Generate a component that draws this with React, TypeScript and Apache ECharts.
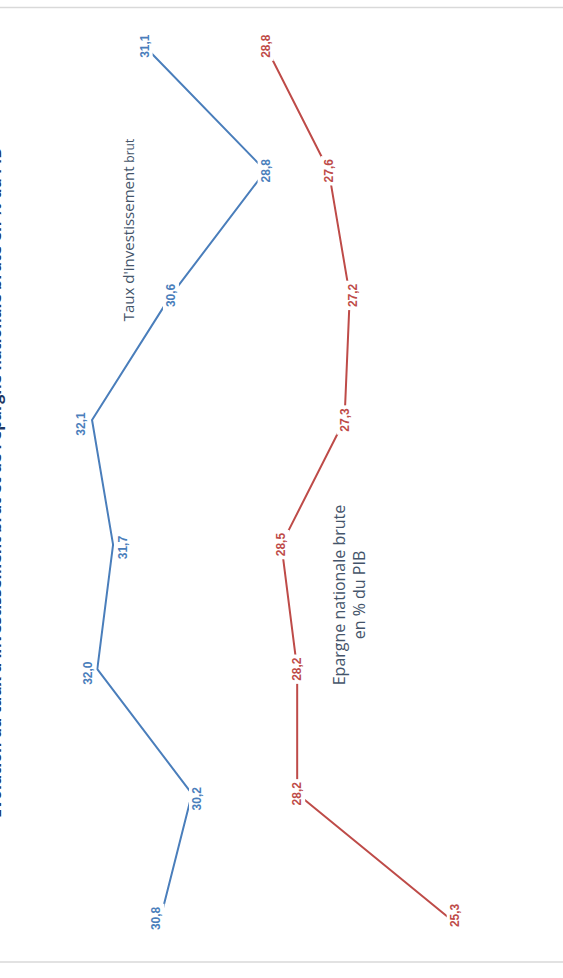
import { useEffect, useRef } from "react";
import * as echarts from "echarts";

// Eight periods, oldest first
const periods = ["1", "2", "3", "4", "5", "6", "7", "8"];
// Taux d'investissement brut (% du PIB)
const investissement = [30.8, 30.2, 32.0, 31.7, 32.1, 30.6, 28.8, 31.1];
// Epargne nationale brute (% du PIB)
const epargne = [25.3, 28.2, 28.2, 28.5, 27.3, 27.2, 27.6, 28.8];

const titleText =
  "Evolution du taux d'investissement brut et de l'épargne nationale brute en % du PIB";

// Small nudges of some value labels away from their point: [along axis, across axis]
const investLabelShift: [number, number][] = [
  [0, -4], [-5, 5], [-4, -9], [-3, 10], [-4, -11], [0, 0], [0, 0], [0, 0],
];
const epargneLabelShift: [number, number][] = [
  [3, 5], [0, 0], [0, 0], [0, 0], [0, 0], [0, 3], [0, 0], [0, 0],
];

const BLUE = "#4a7ebb";
const RED = "#be4b48";
const TEXT = "#44546a";

// The chart is laid out in landscape and turned a quarter turn on the page.
const PAGE_W = 563;
const PAGE_H = 978;
const CUT = 20; // strip of the landscape chart that falls off the page edge
const W = PAGE_H;
const H = PAGE_W + CUT;

const fmt = (v: number) => v.toFixed(1).replace(".", ",");

function seriesData(values: number[], shifts: [number, number][]) {
  return values.map((v, i) => ({
    value: v,
    label: { offset: shifts[i] },
  }));
}

function labelStyle(color: string) {
  return {
    show: true,
    position: "inside",
    formatter: (p: any) => fmt(p.value as number),
    color,
    fontFamily: "Liberation Sans",
    fontWeight: "bold",
    fontSize: 12,
    backgroundColor: "#ffffff",
    padding: [2, 3],
  };
}

export default function App() {
  const ref = useRef<HTMLDivElement>(null);

  useEffect(() => {
    const chart = echarts.init(ref.current!, null, { renderer: "svg" });
    chart.setOption({
      animation: false,
      backgroundColor: "#ffffff",
      grid: { left: 59.6, right: 46.2, top: 64.7, bottom: 44.9 },
      xAxis: {
        type: "category",
        data: periods,
        boundaryGap: false,
        show: false,
      },
      yAxis: {
        type: "value",
        min: 24,
        max: 33,
        show: false,
        splitLine: { show: false },
      },
      series: [
        {
          name: "Taux d'investissement brut",
          type: "line",
          data: seriesData(investissement, investLabelShift),
          symbol: "circle",
          symbolSize: 1,
          itemStyle: { color: BLUE },
          lineStyle: { color: BLUE, width: 2 },
          label: labelStyle(BLUE),
          z: 2,
        },
        {
          name: "Epargne nationale brute",
          type: "line",
          data: seriesData(epargne, epargneLabelShift),
          symbol: "circle",
          symbolSize: 1,
          itemStyle: { color: RED },
          lineStyle: { color: RED, width: 2 },
          label: labelStyle(RED),
          z: 2,
        },
      ],
      graphic: [
        // chart frame edges
        {
          type: "line",
          shape: { x1: 16, y1: 0, x2: 16, y2: H },
          style: { stroke: "#d9d9d9", lineWidth: 1.5 },
          silent: true,
        },
        {
          type: "line",
          shape: { x1: 970.5, y1: 0, x2: 970.5, y2: H },
          style: { stroke: "#d9d9d9", lineWidth: 1.5 },
          silent: true,
        },
        {
          type: "text",
          x: 495,
          y: 14.8,
          style: {
            text: titleText,
            fill: "#1f3864",
            fontFamily: "Open Sans",
            fontWeight: "bold",
            fontSize: 16,
            align: "center",
            verticalAlign: "middle",
          },
          silent: true,
        },
        {
          type: "text",
          x: 748,
          y: 148,
          style: {
            text: "{a|Taux d'investissement }{b|brut}",
            align: "center",
            verticalAlign: "middle",
            rich: {
              a: {
                fontFamily: "Open Sans",
                fontSize: 15,
                fill: TEXT,
                verticalAlign: "bottom",
              },
              b: {
                fontFamily: "Open Sans",
                fontSize: 12,
                fill: TEXT,
                verticalAlign: "bottom",
              },
            },
          },
          silent: true,
        },
        {
          type: "text",
          x: 383,
          y: 369,
          style: {
            text: "Epargne nationale brute\nen % du PIB",
            fill: TEXT,
            fontFamily: "Open Sans",
            fontSize: 16,
            lineHeight: 20,
            align: "center",
            verticalAlign: "middle",
          },
          silent: true,
        },
      ],
    });
    return () => chart.dispose();
  }, []);

  return (
    <div
      style={{
        position: "fixed",
        left: 0,
        top: 0,
        width: PAGE_W,
        height: PAGE_H,
        overflow: "hidden",
        background: "#ffffff",
      }}
    >
      <div
        ref={ref}
        style={{
          position: "absolute",
          left: -CUT,
          top: PAGE_H,
          width: W,
          height: H,
          transformOrigin: "0 0",
          transform: "rotate(-90deg)",
        }}
      />
    </div>
  );
}
